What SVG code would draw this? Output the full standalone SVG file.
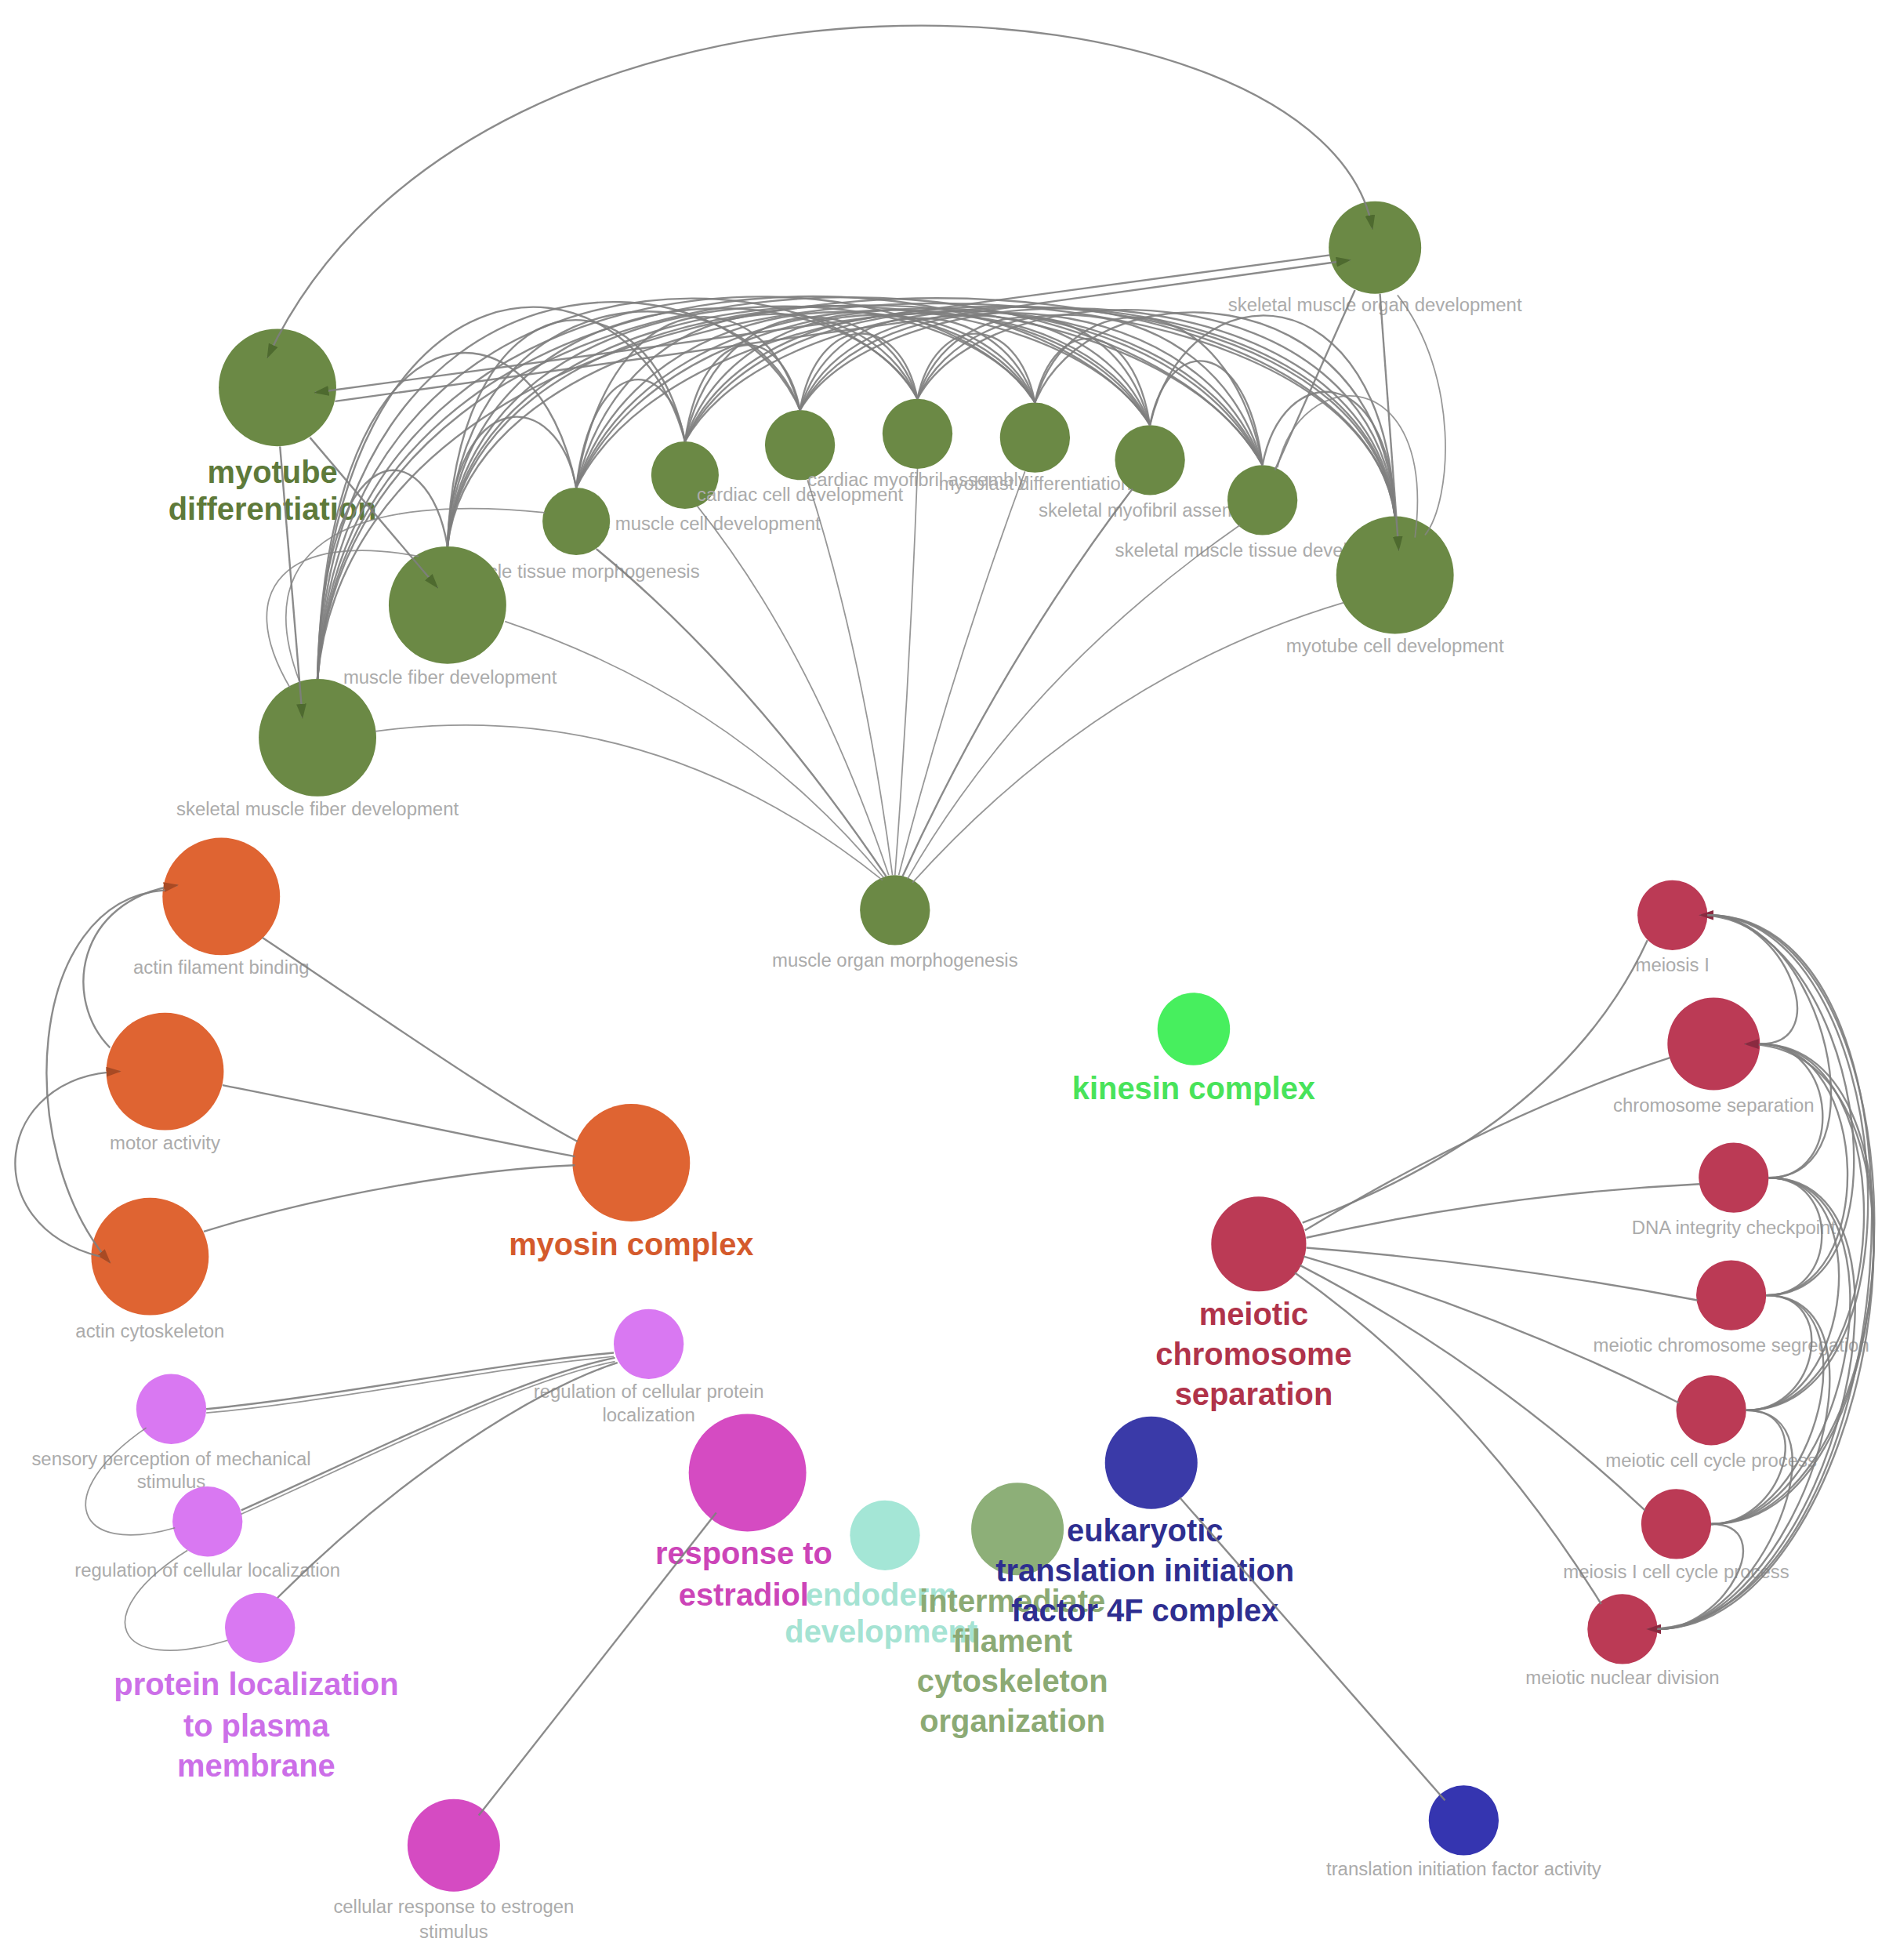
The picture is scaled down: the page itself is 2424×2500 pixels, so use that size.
<svg xmlns="http://www.w3.org/2000/svg" width="2424" height="2500" viewBox="0 0 2424 2500">
<style>
.e{fill:none;stroke:#7e7e7e;stroke-width:1.5;stroke-opacity:0.9}
.et{fill:none;stroke:#858585;stroke-width:1.1;stroke-opacity:0.85}
.ng{fill:#6b8945}
.no{fill:#df6432}
.nr{fill:#bb3a55}
.np{fill:#d978f2}
.nm{fill:#d54bc2}
.sl{font-family:"Liberation Sans",Arial,sans-serif;font-size:15px;fill:#ababab;text-anchor:middle}
.bl{font-family:"Liberation Sans",Arial,sans-serif;font-size:25px;font-weight:bold;text-anchor:middle}
</style>
<defs>
<marker id="ag" viewBox="0 0 12 8" refX="11" refY="4" markerWidth="12" markerHeight="8" markerUnits="userSpaceOnUse" orient="auto"><path d="M0,0 L12,4 L0,8 z" fill="#4e6a2f"/></marker>
<marker id="ags" viewBox="0 0 12 8" refX="11" refY="4" markerWidth="12" markerHeight="8" markerUnits="userSpaceOnUse" orient="auto-start-reverse"><path d="M0,0 L12,4 L0,8 z" fill="#4e6a2f"/></marker>
<marker id="ao" viewBox="0 0 12 8" refX="11" refY="4" markerWidth="12" markerHeight="8" markerUnits="userSpaceOnUse" orient="auto"><path d="M0,0 L12,4 L0,8 z" fill="#a84a24"/></marker>
<marker id="ar" viewBox="0 0 12 8" refX="11" refY="4" markerWidth="12" markerHeight="8" markerUnits="userSpaceOnUse" orient="auto"><path d="M0,0 L12,4 L0,8 z" fill="#8a2a40"/></marker>
</defs>
<rect width="2424" height="2500" fill="#ffffff"/>
<g transform="scale(1.5947)">
<g id="nodes">
<g id="n-skeletal-muscle-organ-development"><circle class="ng" cx="1100" cy="198" r="37"/><text class="sl" x="1100" y="249">skeletal muscle organ development</text></g>
<g id="n-myotube-differentiation"><circle class="ng" cx="222" cy="310" r="47"/><text class="bl" fill="#5e7a3a" x="218" y="386">myotube<tspan x="218" dy="30">differentiation</tspan></text></g>
<g id="n-cardiac-muscle-cell-development"><circle class="ng" cx="548" cy="380" r="27"/><text class="sl" x="548" y="424">cardiac muscle cell development</text></g>
<g id="n-muscle-tissue-morphogenesis"><circle class="ng" cx="461" cy="417" r="27"/><text class="sl" x="461" y="462">muscle tissue morphogenesis</text></g>
<g id="n-cardiac-cell-development"><circle class="ng" cx="640" cy="356" r="28"/><text class="sl" x="640" y="401">cardiac cell development</text></g>
<g id="n-cardiac-myofibril-assembly"><circle class="ng" cx="734" cy="347" r="28"/><text class="sl" x="734" y="389">cardiac myofibril assembly</text></g>
<g id="n-myoblast-differentiation"><circle class="ng" cx="828" cy="350" r="28"/><text class="sl" x="828" y="392">myoblast differentiation</text></g>
<g id="n-skeletal-myofibril-assembly"><circle class="ng" cx="920" cy="368" r="28"/><text class="sl" x="920" y="413">skeletal myofibril assembly</text></g>
<g id="n-skeletal-muscle-tissue-development"><circle class="ng" cx="1010" cy="400" r="28"/><text class="sl" x="1010" y="445">skeletal muscle tissue development</text></g>
<g id="n-myotube-cell-development"><circle class="ng" cx="1116" cy="460" r="47"/><text class="sl" x="1116" y="522">myotube cell development</text></g>
<g id="n-muscle-fiber-development"><circle class="ng" cx="358" cy="484" r="47"/><text class="sl" x="360" y="547">muscle fiber development</text></g>
<g id="n-skeletal-muscle-fiber-development"><circle class="ng" cx="254" cy="590" r="47"/><text class="sl" x="254" y="652">skeletal muscle fiber development</text></g>
<g id="n-muscle-organ-morphogenesis"><circle class="ng" cx="716" cy="728" r="28"/><text class="sl" x="716" y="773">muscle organ morphogenesis</text></g>

<g id="n-actin-filament-binding"><circle class="no" cx="177" cy="717" r="47"/><text class="sl" x="177" y="779">actin filament binding</text></g>
<g id="n-motor-activity"><circle class="no" cx="132" cy="857" r="47"/><text class="sl" x="132" y="919">motor activity</text></g>
<g id="n-actin-cytoskeleton"><circle class="no" cx="120" cy="1005" r="47"/><text class="sl" x="120" y="1070">actin cytoskeleton</text></g>
<g id="n-myosin-complex"><circle class="no" cx="505" cy="930" r="47"/><text class="bl" fill="#d45a2c" x="505" y="1004">myosin complex</text></g>

<g id="n-kinesin-complex"><circle fill="#47ef5e" cx="955" cy="823" r="29"/><text class="bl" fill="#48e35a" x="955" y="879">kinesin complex</text></g>

<g id="n-meiotic-chromosome-separation"><circle class="nr" cx="1007" cy="995" r="38"/><text class="bl" fill="#b0334a" x="1003" y="1060">meiotic<tspan x="1003" dy="32">chromosome</tspan><tspan x="1003" dy="32">separation</tspan></text></g>
<g id="n-meiosis-i"><circle class="nr" cx="1338" cy="732" r="28"/><text class="sl" x="1338" y="777">meiosis I</text></g>
<g id="n-chromosome-separation"><circle class="nr" cx="1371" cy="835" r="37"/><text class="sl" x="1371" y="889">chromosome separation</text></g>
<g id="n-dna-integrity-checkpoint"><circle class="nr" cx="1387" cy="942" r="28"/><text class="sl" x="1387" y="987">DNA integrity checkpoint</text></g>
<g id="n-meiotic-chromosome-segregation"><circle class="nr" cx="1385" cy="1036" r="28"/><text class="sl" x="1385" y="1081">meiotic chromosome segregation</text></g>
<g id="n-meiotic-cell-cycle-process"><circle class="nr" cx="1369" cy="1128" r="28"/><text class="sl" x="1369" y="1173">meiotic cell cycle process</text></g>
<g id="n-meiosis-i-cell-cycle-process"><circle class="nr" cx="1341" cy="1219" r="28"/><text class="sl" x="1341" y="1262">meiosis I cell cycle process</text></g>
<g id="n-meiotic-nuclear-division"><circle class="nr" cx="1298" cy="1303" r="28"/><text class="sl" x="1298" y="1347">meiotic nuclear division</text></g>

<g id="n-regulation-of-cellular-protein-localization"><circle class="np" cx="519" cy="1075" r="28"/><text class="sl" x="519" y="1118">regulation of cellular protein<tspan x="519" dy="19">localization</tspan></text></g>
<g id="n-sensory-perception-of-mechanical-stimulus"><circle class="np" cx="137" cy="1127" r="28"/><text class="sl" x="137" y="1172">sensory perception of mechanical<tspan x="137" dy="18">stimulus</tspan></text></g>
<g id="n-regulation-of-cellular-localization"><circle class="np" cx="166" cy="1217" r="28"/><text class="sl" x="166" y="1261">regulation of cellular localization</text></g>
<g id="n-protein-localization-to-plasma-membrane"><circle class="np" cx="208" cy="1302" r="28"/><text class="bl" fill="#cc6fe8" x="205" y="1356">protein localization<tspan x="205" dy="33">to plasma</tspan><tspan x="205" dy="32">membrane</tspan></text></g>

<g id="n-endoderm-development"><circle fill="#a4e6d6" cx="708" cy="1228" r="28"/><text class="bl" fill="#a5e3d3" x="705" y="1284">endoderm<tspan x="705" dy="30">development</tspan></text></g>
<g id="n-response-to-estradiol"><circle class="nm" cx="598" cy="1178" r="47"/><text class="bl" fill="#cc44b8" x="595" y="1251">response to<tspan x="595" dy="33">estradiol</tspan></text></g>
<g id="n-cellular-response-to-estrogen-stimulus"><circle class="nm" cx="363" cy="1476" r="37"/><text class="sl" x="363" y="1530">cellular response to estrogen<tspan x="363" dy="20">stimulus</tspan></text></g>
<g id="n-intermediate-filament-cytoskeleton-organization"><circle fill="#8daf78" cx="814" cy="1223" r="37"/><text class="bl" fill="#8caa74" x="810" y="1289">intermediate<tspan x="810" dy="32">filament</tspan><tspan x="810" dy="32">cytoskeleton</tspan><tspan x="810" dy="32">organization</tspan></text></g>
<g id="n-eukaryotic-translation-initiation-factor-4f-complex"><circle fill="#3a3aa8" cx="921" cy="1170" r="37"/><text class="bl" fill="#2e2e90" x="916" y="1233">eukaryotic<tspan x="916" dy="32">translation initiation</tspan><tspan x="916" dy="32">factor 4F complex</tspan></text></g>
<g id="n-translation-initiation-factor-activity"><circle fill="#3535b0" cx="1171" cy="1456" r="28"/><text class="sl" x="1171" y="1500">translation initiation factor activity</text></g>
</g>

<g id="connectors">
<g id="edges-green-bundle">
<path class="e" d="M254,543 C258,343 342,343 358,437"/>
<path class="e" d="M254,543 C262,227 430,227 461,390"/>
<path class="e" d="M254,543 C266,187 504,187 548,353"/>
<path class="e" d="M254,543 C269,189 582,189 640,328"/>
<path class="e" d="M254,543 C273,188 662,188 734,319"/>
<path class="e" d="M254,543 C277,185 742,185 828,322"/>
<path class="e" d="M254,543 C281,179 820,179 920,340"/>
<path class="e" d="M254,543 C284,171 897,171 1010,372"/>
<path class="e" d="M254,543 C288,162 1082,162 1116,413"/>
<path class="e" d="M358,437 C362,308 446,308 461,390"/>
<path class="e" d="M358,437 C366,212 520,212 548,353"/>
<path class="e" d="M358,437 C369,209 598,209 640,328"/>
<path class="e" d="M358,437 C373,208 678,208 734,319"/>
<path class="e" d="M358,437 C377,205 758,205 828,322"/>
<path class="e" d="M358,437 C380,200 836,200 920,340"/>
<path class="e" d="M358,437 C384,192 912,192 1010,372"/>
<path class="e" d="M358,437 C388,182 1086,182 1116,413"/>
<path class="e" d="M461,390 C474,282 535,282 548,353"/>
<path class="e" d="M461,390 C488,220 613,220 640,328"/>
<path class="e" d="M461,390 C502,219 693,219 734,319"/>
<path class="e" d="M461,390 C516,216 773,216 828,322"/>
<path class="e" d="M461,390 C530,210 851,210 920,340"/>
<path class="e" d="M461,390 C543,202 928,202 1010,372"/>
<path class="e" d="M461,390 C559,193 1090,193 1116,413"/>
<path class="e" d="M548,353 C562,255 626,255 640,328"/>
<path class="e" d="M548,353 C576,227 706,227 734,319"/>
<path class="e" d="M548,353 C590,224 786,224 828,322"/>
<path class="e" d="M548,353 C604,219 864,219 920,340"/>
<path class="e" d="M548,353 C617,211 941,211 1010,372"/>
<path class="e" d="M548,353 C633,201 1093,201 1116,413"/>
<path class="e" d="M640,328 C654,248 720,248 734,319"/>
<path class="e" d="M640,328 C668,231 800,231 828,322"/>
<path class="e" d="M640,328 C682,225 878,225 920,340"/>
<path class="e" d="M640,328 C696,218 955,218 1010,372"/>
<path class="e" d="M640,328 C711,208 1097,208 1116,413"/>
<path class="e" d="M734,319 C748,249 814,249 828,322"/>
<path class="e" d="M734,319 C762,229 892,229 920,340"/>
<path class="e" d="M734,319 C775,222 969,222 1010,372"/>
<path class="e" d="M734,319 C791,212 1101,212 1116,413"/>
<path class="e" d="M828,322 C842,251 906,251 920,340"/>
<path class="e" d="M828,322 C855,224 983,224 1010,372"/>
<path class="e" d="M828,322 C871,214 1104,214 1116,413"/>
<path class="e" d="M920,340 C934,267 997,267 1010,372"/>
<path class="e" d="M920,340 C949,213 1108,213 1116,413"/>
<path class="e" d="M1010,372 C1026,288 1112,288 1116,413"/>
</g>
<g id="edges-green-morphogenesis">
<path class="et" d="M300,585 Q520,555 706,704"/>
<path class="et" d="M404,497 Q590,560 707,702"/>
<path class="e" d="M477,439 Q600,540 709,701"/>
<path class="et" d="M558,405 Q650,520 711,700"/>
<path class="et" d="M646,384 Q690,520 714,700"/>
<path class="et" d="M734,375 Q728,540 716,700"/>
<path class="et" d="M820,377 Q760,540 719,700"/>
<path class="e" d="M906,391 Q800,530 722,701"/>
<path class="et" d="M992,420 Q820,540 726,703"/>
<path class="et" d="M1075,482 Q880,540 730,706"/>
</g>
<g id="edges-green-other">
<path class="e" d="M1064,204 L252,314" marker-end="url(#ag)"/>
<path class="e" d="M268,321 L1080,208" marker-end="url(#ag)"/>
<path class="e" d="M214,286 C380,-70 1060,-30 1098,183" marker-start="url(#ags)" marker-end="url(#ag)"/>
<path class="e" d="M1084,232 L1020,376"/>
<path class="e" d="M1104,235 L1119,440" marker-end="url(#ag)"/>
<path class="et" d="M1022,374 C1040,290 1150,290 1132,430"/>
<path class="et" d="M1118,236 C1168,300 1162,400 1140,428"/>
<path class="e" d="M248,350 L350,470" marker-end="url(#ag)"/>
<path class="e" d="M224,357 L242,574" marker-end="url(#ag)"/>
<path class="et" d="M232,550 C185,470 230,425 335,445"/>
<path class="et" d="M240,546 C195,430 290,395 436,410"/>
</g>
<g id="edges-orange">
<path class="e" d="M210,750 C300,810 400,880 462,913"/>
<path class="e" d="M178,868 C280,888 380,910 460,925"/>
<path class="e" d="M163,985 C260,955 380,935 460,932"/>
<path class="e" d="M88,838 C50,800 60,720 142,708" marker-end="url(#ao)"/>
<path class="e" d="M132,712 C20,720 10,920 88,1010" marker-end="url(#ao)"/>
<path class="e" d="M80,1005 C-20,980 -5,860 96,857" marker-end="url(#ao)"/>
</g>
<g id="edges-red">
<path class="e" d="M1042,978 Q1250,900 1318,752"/>
<path class="e" d="M1044,984 Q1200,890 1336,846"/>
<path class="e" d="M1045,990 Q1200,955 1360,947"/>
<path class="e" d="M1045,998 Q1200,1010 1358,1040"/>
<path class="e" d="M1043,1005 Q1200,1050 1343,1122"/>
<path class="e" d="M1040,1012 Q1190,1090 1316,1208"/>
<path class="e" d="M1036,1018 Q1180,1120 1281,1283"/>
<path class="e" d="M1366,732 C1427,732 1469,835 1408,835"/>
<path class="e" d="M1366,732 C1459,732 1508,942 1415,942"/>
<path class="e" d="M1413,1036 C1534,1036 1487,732 1360,732" marker-end="url(#ar)"/>
<path class="e" d="M1366,732 C1515,732 1546,1128 1397,1128"/>
<path class="e" d="M1366,732 C1542,732 1545,1219 1369,1219"/>
<path class="e" d="M1366,732 C1567,732 1527,1303 1318,1303" marker-end="url(#ar)"/>
<path class="e" d="M1408,835 C1470,835 1477,942 1415,942"/>
<path class="e" d="M1408,835 C1498,835 1503,1036 1413,1036"/>
<path class="e" d="M1408,835 C1526,835 1515,1128 1397,1128"/>
<path class="e" d="M1408,835 C1553,835 1514,1219 1369,1219"/>
<path class="e" d="M1326,1303 C1496,1303 1578,835 1396,835" marker-end="url(#ar)"/>
<path class="e" d="M1415,942 C1473,942 1471,1036 1413,1036"/>
<path class="e" d="M1415,942 C1501,942 1483,1128 1397,1128"/>
<path class="e" d="M1415,942 C1528,942 1482,1219 1369,1219"/>
<path class="e" d="M1415,942 C1553,942 1464,1303 1326,1303"/>
<path class="e" d="M1413,1036 C1471,1036 1455,1128 1397,1128"/>
<path class="e" d="M1413,1036 C1498,1036 1454,1219 1369,1219"/>
<path class="e" d="M1413,1036 C1523,1036 1436,1303 1326,1303"/>
<path class="e" d="M1397,1128 C1454,1128 1426,1219 1369,1219"/>
<path class="e" d="M1397,1128 C1480,1128 1409,1303 1326,1303"/>
<path class="e" d="M1369,1219 C1424,1219 1381,1303 1326,1303"/>
</g>
<g id="edges-purple">
<path class="e" d="M165,1127 C260,1118 400,1090 491,1082"/>
<path class="et" d="M165,1130 C260,1122 400,1093 491,1085"/>
<path class="e" d="M193,1208 C300,1160 420,1100 492,1086"/>
<path class="et" d="M193,1211 C300,1163 420,1103 492,1089"/>
<path class="e" d="M222,1278 C320,1180 430,1110 494,1090"/>
<path class="et" d="M117,1142 C40,1195 60,1245 140,1222"/>
<path class="et" d="M150,1240 C70,1290 90,1340 182,1312"/>
</g>
<g id="edges-other">
<path class="e" d="M573,1210 L383,1452"/>
<path class="e" d="M944,1198 L1156,1440"/>
</g>
</g>
</g>
</svg>
